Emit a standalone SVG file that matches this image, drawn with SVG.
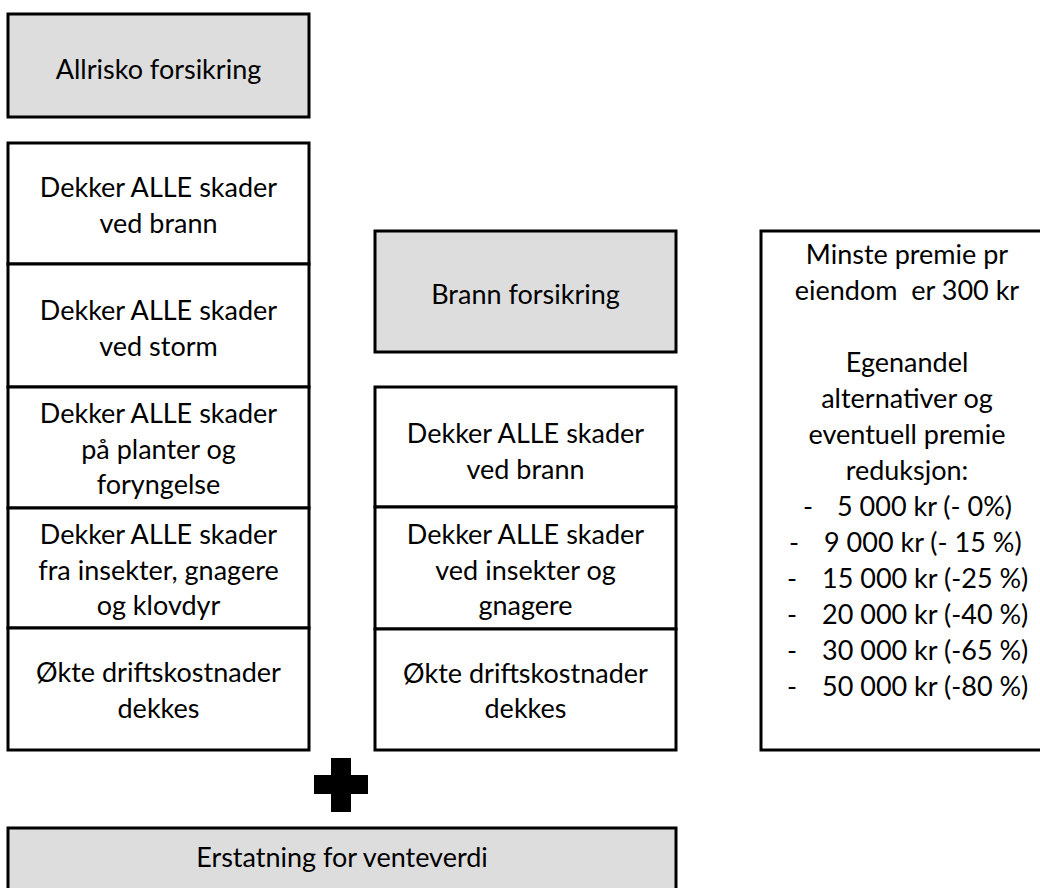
<svg xmlns="http://www.w3.org/2000/svg" width="1040" height="888" viewBox="0 0 1040 888">
<style>
  .box { fill: #ffffff; stroke: #000000; stroke-width: 3; }
  .head { fill: #dddddd; stroke: #000000; stroke-width: 3; }
  text { font-family: Lato, "Open Sans", "Liberation Sans", sans-serif; font-size: 27px; fill: #000000; }
  .c { text-anchor: middle; }
</style>
<rect width="1040" height="888" fill="#ffffff"/>

<g id="allrisko">
  <rect class="head" x="8" y="14" width="301" height="103"/>
  <text class="c" x="158.5" y="79">Allrisko forsikring</text>
</g>

<g id="allrisko-brann">
  <rect class="box" x="8" y="143" width="301" height="121"/>
  <text class="c" x="158.5" y="197">Dekker ALLE skader</text>
  <text class="c" x="158.5" y="232.5">ved brann</text>
</g>
<g id="allrisko-storm">
  <rect class="box" x="8" y="264" width="301" height="123"/>
  <text class="c" x="158.5" y="320">Dekker ALLE skader</text>
  <text class="c" x="158.5" y="355.5">ved storm</text>
</g>
<g id="allrisko-planter">
  <rect class="box" x="8" y="387" width="301" height="121"/>
  <text class="c" x="158.5" y="423">Dekker ALLE skader</text>
  <text class="c" x="158.5" y="458.5">på planter og</text>
  <text class="c" x="158.5" y="494">foryngelse</text>
</g>
<g id="allrisko-insekter">
  <rect class="box" x="8" y="508" width="301" height="120"/>
  <text class="c" x="158.5" y="544">Dekker ALLE skader</text>
  <text class="c" x="158.5" y="579.5">fra insekter, gnagere</text>
  <text class="c" x="158.5" y="615">og klovdyr</text>
</g>
<g id="allrisko-drift">
  <rect class="box" x="8" y="628" width="301" height="122"/>
  <text class="c" x="158.5" y="682">Økte driftskostnader</text>
  <text class="c" x="158.5" y="717.5">dekkes</text>
</g>

<g id="brann">
  <rect class="head" x="375" y="231" width="301" height="121"/>
  <text class="c" x="525.5" y="304">Brann forsikring</text>
</g>
<g id="brann-brann">
  <rect class="box" x="375" y="387" width="301" height="120"/>
  <text class="c" x="525.5" y="443">Dekker ALLE skader</text>
  <text class="c" x="525.5" y="478.5">ved brann</text>
</g>
<g id="brann-insekter">
  <rect class="box" x="375" y="507" width="301" height="122"/>
  <text class="c" x="525.5" y="544">Dekker ALLE skader</text>
  <text class="c" x="525.5" y="579.5">ved insekter og</text>
  <text class="c" x="525.5" y="615">gnagere</text>
</g>
<g id="brann-drift">
  <rect class="box" x="375" y="629" width="301" height="121"/>
  <text class="c" x="525.5" y="682.5">Økte driftskostnader</text>
  <text class="c" x="525.5" y="718">dekkes</text>
</g>

<g id="premie">
  <rect class="box" x="761" y="231" width="292" height="519"/>
  <text class="c" x="907" y="264">Minste premie pr</text>
  <text class="c" x="907" y="300" xml:space="preserve">eiendom  er 300 kr</text>
  <text class="c" x="907" y="372">Egenandel</text>
  <text class="c" x="907" y="408">alternativer og</text>
  <text class="c" x="907" y="444">eventuell premie</text>
  <text class="c" x="907" y="480">reduksjon:</text>
  <text x="803" y="516">-</text><text x="837" y="516">5 000 kr (- 0%)</text>
  <text x="789" y="552">-</text><text x="824" y="552">9 000 kr (- 15 %)</text>
  <text x="787" y="588">-</text><text x="822" y="588">15 000 kr (-25 %)</text>
  <text x="787" y="624">-</text><text x="822" y="624">20 000 kr (-40 %)</text>
  <text x="787" y="660">-</text><text x="822" y="660">30 000 kr (-65 %)</text>
  <text x="787" y="696">-</text><text x="822" y="696">50 000 kr (-80 %)</text>
</g>

<g id="plus">
  <path d="M331 758 H351 V775 H368 V794 H351 V812 H331 V794 H314 V775 H331 Z" fill="#000000"/>
</g>

<g id="venteverdi">
  <rect class="head" x="8" y="828" width="668" height="80"/>
  <text class="c" x="342" y="867">Erstatning for venteverdi</text>
</g>

<g id="connectors"></g>
</svg>
